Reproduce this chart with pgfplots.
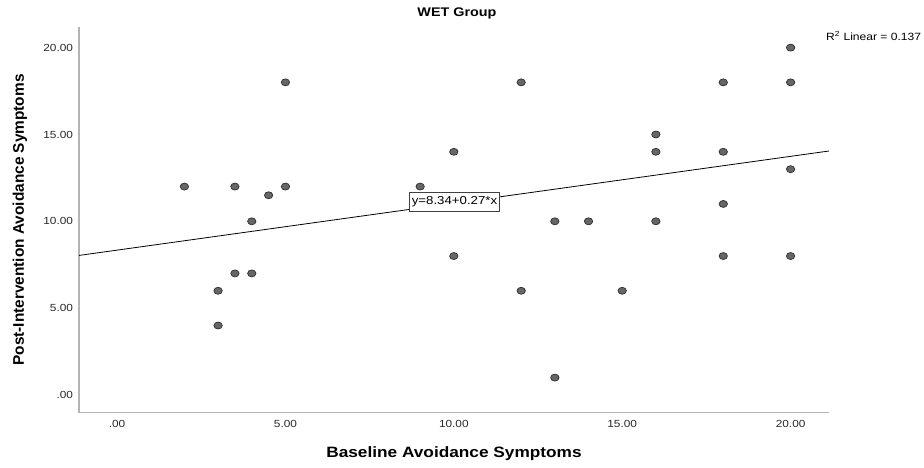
\documentclass[border=0pt]{standalone}
\usepackage{fontspec}
\setmainfont{Liberation Sans}
\usepackage{pgfplots}
\usepackage{pgfplotstable}
\pgfplotsset{compat=1.18}
\definecolor{axgray}{HTML}{B4B4B4}
\definecolor{mkfill}{HTML}{666666}
\definecolor{mkedge}{HTML}{2E2E2E}
\pgfplotstableread{
x y
2 12
3.5 12
4 10
4.5 11.5
5 12
5 18
3 6
3 4
3.5 7
4 7
9 12
10 14
10 8
12 18
12 6
13 10
14 10
13 1
15 6
16 15
16 14
16 10
18 18
18 14
18 11
18 8
20 20
20 18
20 13
20 8
}\pts
\pgfplotstableread{
x y
-1.13 8.035
21.14 14.048
}\fit
\begin{document}
\begin{tikzpicture}
\begin{axis}[
  at={(79pt,54.3pt)}, anchor=south west,
  scale only axis, width=750pt, height=385.4pt,
  xmin=-1.13, xmax=21.14, ymin=-1.02, ymax=21.17,
  axis x line*=bottom, axis y line*=left,
  axis line style={draw=axgray, line width=1.4pt, -},
  major tick length=0pt,
  xtick={0,5,10,15,20}, xticklabels={.00,5.00,10.00,15.00,20.00},
  ytick={0,5,10,15,20}, yticklabels={.00,5.00,10.00,15.00,20.00},
  xticklabel style={font=\fontsize{10.3}{12}\selectfont, xscale=1.15, anchor=center, yshift=-11.5pt, text=black!85},
  yticklabel style={font=\fontsize{10.3}{12}\selectfont, xscale=1.15, anchor=east, inner sep=0pt, xshift=-5pt, text=black!85},
  title={WET Group},
  title style={at={(axis description cs:0.504,1.0215)}, anchor=center, font=\bfseries\fontsize{12.5}{14}\selectfont, xscale=1.15},
  xlabel={Baseline Avoidance Symptoms},
  xlabel style={at={(axis description cs:0.5,-0.106)}, anchor=center, font=\bfseries\fontsize{15}{18}\selectfont, xscale=1.15},
  ylabel={Post-Intervention Avoidance Symptoms},
  ylabel style={at={(axis description cs:-0.0787,0.5)}, anchor=center, font=\bfseries\fontsize{15.4}{18}\selectfont},
  clip=false,
]
\addplot[black, line width=0.8pt] table {\fit};
\node[draw=black!75, line width=0.7pt, fill=white, font=\fontsize{11.5}{13}\selectfont, xscale=1.15, inner xsep=2pt, inner ysep=4.5pt, text height=8pt, text depth=2.5pt] at (axis cs:10.02,11.11) {y=8.34+0.27*x};
\addplot[only marks, mark=*, mark size=3.5pt, mark options={xscale=1.2, fill=mkfill, draw=mkedge, line width=0.7pt}] table {\pts};
\node[anchor=west, inner sep=0pt, font=\fontsize{10.5}{12}\selectfont, xscale=1.15] at (axis description cs:0.996,0.978) {R\textsuperscript{2} Linear = 0.137};
\end{axis}
\pgfresetboundingbox
\path[use as bounding box] (0,0) rectangle (924pt,467pt);
\end{tikzpicture}
\end{document}
